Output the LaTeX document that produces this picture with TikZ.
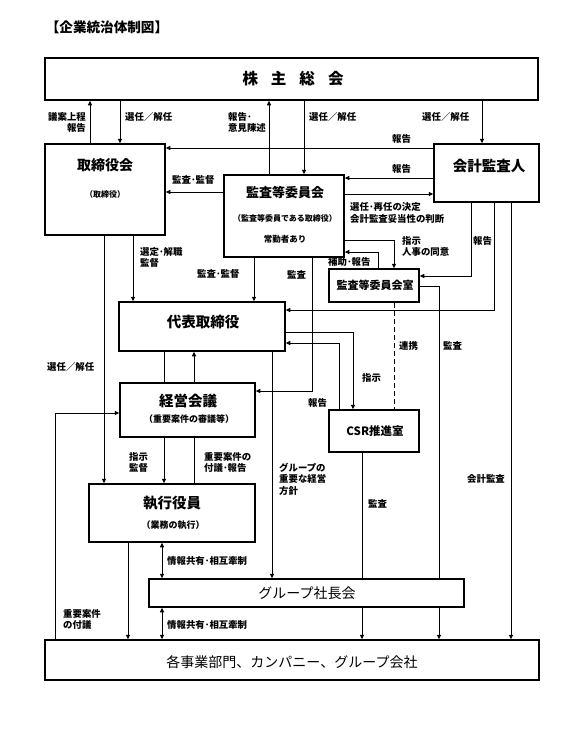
\documentclass[tikz,border=0pt]{standalone}
\usepackage{fontspec}
\setmainfont{Noto Sans CJK JP}
\usetikzlibrary{arrows.meta}
\tikzset{
  box/.style={draw, line width=1.5pt, inner sep=0pt, fill=white},
  txt/.style={inner sep=0pt, align=center},
  lbl/.style={inner sep=0pt, anchor=west, align=left, font=\bfseries\fontsize{9.4}{11.5}\selectfont},
  lblr/.style={lbl, anchor=east, align=right},
  ln/.style={line width=0.9pt},
  arr/.style={ln, -{Triangle[length=4.5pt,width=4pt]}},
  darr/.style={ln, {Triangle[length=4.5pt,width=4pt]}-{Triangle[length=4.5pt,width=4pt]}},
}
\begin{document}
\begin{tikzpicture}[x=1pt, y=-1pt]
\useasboundingbox (0,0) rectangle (584,731);
% title
\node[txt, font=\bfseries\fontsize{13.6}{15}\selectfont] (title) at (107,27) {【企業統治体制図】};
% boxes
\node[box, minimum width=493pt, minimum height=42pt] (kabu) at (291.5,79) {};
\node[txt, font=\bfseries\fontsize{15.5}{18}\selectfont] (kabut) at (293,79) {株\hspace{13pt}主\hspace{13pt}総\hspace{13pt}会};
\node[box, minimum width=120pt, minimum height=91pt] (tori) at (105,189.5) {};
\node[txt, font=\bfseries\fontsize{14}{16}\selectfont] (torit) at (105,165) {取締役会};
\node[txt, font=\bfseries\fontsize{8}{10}\selectfont] (toris) at (105,194) {（取締役）};
\node[box, minimum width=120pt, minimum height=82pt] (kansa) at (284,216) {};
\node[txt, font=\bfseries\fontsize{13}{15}\selectfont] (kansat) at (285,193) {監査等委員会};
\node[txt, font=\bfseries\fontsize{8}{10}\selectfont] (kansas) at (285,218) {（監査等委員である取締役）};
\node[txt, font=\bfseries\fontsize{8.5}{10}\selectfont] (kansaj) at (285,239) {常勤者あり};
\node[box, minimum width=105pt, minimum height=58pt] (kaikei) at (486.5,173) {};
\node[txt, font=\bfseries\fontsize{14.5}{17}\selectfont] (kaikeit) at (489,166) {会計監査人};
\node[box, minimum width=90pt, minimum height=33pt] (shitsu) at (374,285.5) {};
\node[txt, font=\bfseries\fontsize{11}{13}\selectfont] (shitsut) at (375,285) {監査等委員会室};
\node[box, minimum width=166pt, minimum height=49pt] (daihyo) at (202,326.5) {};
\node[txt, font=\bfseries\fontsize{14.5}{17}\selectfont] (daihyot) at (203,322) {代表取締役};
\node[box, minimum width=135pt, minimum height=54pt] (keiei) at (187.5,410) {};
\node[txt, font=\bfseries\fontsize{14.5}{17}\selectfont] (keieit) at (188,401) {経営会議};
\node[txt, font=\bfseries\fontsize{9}{11}\selectfont] (keieis) at (189,419) {（重要案件の審議等）};
\node[box, minimum width=90pt, minimum height=42pt] (csr) at (374,431) {};
\node[txt, font=\bfseries\fontsize{11.5}{13}\selectfont] (csrt) at (375,431) {CSR推進室};
\node[box, minimum width=166pt, minimum height=58pt] (shikko) at (172,513) {};
\node[txt, font=\bfseries\fontsize{14.5}{17}\selectfont] (shikkot) at (172,503) {執行役員};
\node[txt, font=\bfseries\fontsize{9}{11}\selectfont] (shikkos) at (173,525) {（業務の執行）};
\node[box, minimum width=494pt, minimum height=40pt] (jigyo) at (292,660) {};
\node[txt, font=\fontsize{14}{16}\selectfont] (jigyot) at (292,662) {各事業部門、カンパニー、グループ会社};
% lines passing behind the group box
\draw[arr] (shitsu.east |- 0,286) -| (439,0 |- jigyo.north);
\draw[arr] (362,0 |- csr.south) -- (362,0 |- jigyo.north);
\node[box, minimum width=315pt, minimum height=28pt] (group) at (306.5,593) {};
\node[txt, font=\fontsize{14}{16}\selectfont] (groupt) at (307,593) {グループ社長会};
% connectors
\draw[arr] (90,0 |- tori.north) -- (90,0 |- kabu.south);
\draw[arr] (120,0 |- kabu.south) -- (120,0 |- tori.north);
\draw[arr] (269,0 |- kansa.north) -- (269,0 |- kabu.south);
\draw[arr] (304,0 |- kabu.south) -- (304,0 |- kansa.north);
\draw[arr] (482,0 |- kabu.south) -- (482,0 |- kaikei.north);
\draw[arr] (kaikei.west |- 0,148) -- (tori.east |- 0,148);
\draw[arr] (kaikei.west |- 0,178) -- (kansa.east |- 0,178);
\draw[arr] (kansa.east |- 0,194) -- (kaikei.west |- 0,194);
\draw[arr] (kansa.west |- 0,192) -- (tori.east |- 0,192);
\draw[arr] (kansa.east |- 0,240) -| (394,0 |- shitsu.north);
\draw[arr] (378,0 |- shitsu.north) |- (kansa.east |- 0,252);
\draw[arr] (471,0 |- kaikei.south) |- (shitsu.east |- 0,276);
\draw[arr] (494,0 |- kaikei.south) |- (daihyo.east |- 0,310);
\draw[arr] (511,0 |- kaikei.south) -- (511,0 |- jigyo.north);
\draw[ln, dashed, dash pattern=on 5pt off 3pt] (394,0 |- shitsu.south) -- (394,0 |- csr.north);
\draw[arr] (133,0 |- tori.south) -- (133,0 |- daihyo.north);
\draw[arr] (254,0 |- kansa.south) -- (254,0 |- daihyo.north);
\draw[arr] (312,0 |- kansa.south) |- (keiei.east |- 0,391);
\draw[arr] (daihyo.east |- 0,332) -| (353,0 |- csr.north);
\draw[arr] (339,0 |- csr.north) |- (daihyo.east |- 0,343);
\draw[arr] (272,0 |- daihyo.south) -- (272,0 |- group.north);
\draw[ln] (164,0 |- keiei.north) -- (164,0 |- daihyo.south);
\draw[arr] (194,0 |- keiei.north) -- (194,0 |- daihyo.south);
\draw[arr] (104,0 |- tori.south) -- (104,0 |- shikko.north);
\draw[arr] (55,0 |- jigyo.north) |- (keiei.west |- 0,413);
\draw[arr] (164,0 |- keiei.south) -- (164,0 |- shikko.north);
\draw[ln] (194,0 |- shikko.north) -- (194,0 |- keiei.south);
\draw[arr] (128,0 |- shikko.south) -- (128,0 |- jigyo.north);
\draw[darr] (162,0 |- shikko.south) -- (162,0 |- group.north);
\draw[darr] (162,0 |- group.south) -- (162,0 |- jigyo.north);
% labels
\node[lblr] (l1) at (86,122.5) {議案上程\\報告};
\node[lbl] (l2) at (125,117) {選任／解任};
\node[lbl] (l3) at (228,122.5) {報告･\\意見陳述};
\node[lbl] (l4) at (309,117) {選任／解任};
\node[lbl] (l5) at (422,117) {選任／解任};
\node[lbl] (l6) at (392,139) {報告};
\node[lbl] (l7) at (392,169) {報告};
\node[lbl] (l8) at (172,180) {監査･監督};
\node[lbl] (l9) at (350,213) {選任･再任の決定\\会計監査妥当性の判断};
\node[lbl] (l10) at (402,246.5) {指示\\人事の同意};
\node[lbl] (l11) at (328,262) {補助･報告};
\node[lbl] (l12) at (473,241) {報告};
\node[lbl] (l13) at (140,257.5) {選定･解職\\監督};
\node[lbl] (l14) at (197,274) {監査･監督};
\node[lbl] (l15) at (287,275) {監査};
\node[lbl] (l16) at (399,346) {連携};
\node[lbl] (l17) at (443,346) {監査};
\node[lbl] (l18) at (47,367) {選任／解任};
\node[lbl] (l19) at (362,378) {指示};
\node[lbl] (l20) at (308,403) {報告};
\node[lbl] (l21) at (129,462.5) {指示\\監督};
\node[lbl] (l22) at (204,462.5) {重要案件の\\付議･報告};
\node[lbl] (l23) at (279,479) {グループの\\重要な経営\\方針};
\node[lbl] (l24) at (467,479) {会計監査};
\node[lbl] (l25) at (368,504) {監査};
\node[lbl] (l26) at (167,561) {情報共有･相互牽制};
\node[lbl] (l27) at (63,619.5) {重要案件\\の付議};
\node[lbl] (l28) at (167,625) {情報共有･相互牽制};
\end{tikzpicture}
\end{document}
